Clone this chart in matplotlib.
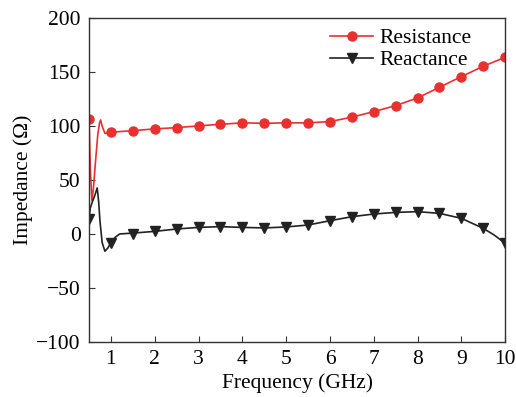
import numpy as np
import matplotlib.pyplot as plt

plt.rcParams['font.family'] = ['Liberation Serif', 'DejaVu Serif']
plt.rcParams['mathtext.fontset'] = 'stix'

# marker samples (every 0.5 GHz)
freq_mk = [0.5, 1.0, 1.5, 2.0, 2.5, 3.0, 3.5, 4.0, 4.5, 5.0,
           5.5, 6.0, 6.5, 7.0, 7.5, 8.0, 8.5, 9.0, 9.5, 10.0]
res_mk = [107, 94.3, 95.8, 97.4, 98.6, 100.2, 101.7, 103, 102.6, 103,
          103, 104.2, 108.3, 113.4, 119, 126.1, 136, 145.9, 155.5, 163.8]
rea_mk = [14, -8, 0, 2.4, 4.6, 6.1, 6.8, 6.1, 5.6, 6.5,
          8.3, 12.3, 16, 18.5, 20, 20.7, 19.1, 14.5, 5.2, -8.7]

# traced curves (denser near the low-frequency resonance)
freq_res = [0.5, 0.53, 0.566, 0.6, 0.65, 0.7, 0.74, 0.765, 0.8, 0.863, 0.93, 1.0,
            1.5, 2.0, 2.5, 3.0, 3.5, 4.0, 4.5, 5.0, 5.5, 6.0, 6.5, 7.0, 7.5,
            8.0, 8.5, 9.0, 9.5, 10.0]
res_line = [107, 60, 31, 42, 68, 92, 103, 105.7, 100, 93.3, 93.5, 94.3,
            95.8, 97.4, 98.6, 100.2, 101.7, 103, 102.6, 103, 103, 104.2, 108.3,
            113.4, 119, 126.1, 136, 145.9, 155.5, 163.8]

freq_rea = [0.5, 0.53, 0.56, 0.63, 0.687, 0.72, 0.75, 0.8, 0.863, 0.93, 1.0, 1.1,
            1.2, 1.5, 2.0, 2.5, 3.0, 3.5, 4.0, 4.5, 5.0, 5.5, 6.0, 6.5, 7.0,
            7.5, 8.0, 8.5, 9.0, 9.5, 9.75, 10.0]
rea_line = [14, 24, 28, 35.5, 42.7, 30, 12, -8, -16, -13, -8, -3,
            0, 0.8, 2.4, 4.6, 6.1, 6.8, 6.1, 5.6, 6.5, 8.3, 12.3, 16, 18.5,
            20, 20.7, 19.1, 14.5, 5.2, -1, -8.7]

red = '#e8302f'
black = '#222222'
fs = 15.5

fig = plt.figure(figsize=(5.16, 3.97), dpi=100)
ax = fig.add_axes([0.1725, 0.139, 0.8065, 0.815])

ax.plot(freq_res, res_line, color=red, lw=1.2)
ax.plot(freq_mk, res_mk, 'o', color=red, ms=6.5)
ax.plot(freq_rea, rea_line, color=black, lw=1.2)
ax.plot(freq_mk, rea_mk, 'v', color=black, ms=7)

# legend proxies
ax.plot([], [], '-o', color=red, lw=1.2, ms=6.5, label='Resistance')
ax.plot([], [], '-v', color=black, lw=1.2, ms=7, label='Reactance')
ax.legend(loc='upper left', bbox_to_anchor=(330 / 516, 1 - 28 / 397),
          bbox_transform=fig.transFigure, frameon=False, fontsize=fs,
          handlelength=2.0, handletextpad=0.3, borderaxespad=0, borderpad=0,
          labelspacing=0.1)

ax.set_xlim(0.5, 10)
ax.set_ylim(-100, 200)
ax.set_xticks(range(1, 11))
ax.set_yticks([-100, -50, 0, 50, 100, 150, 200])
ax.set_yticklabels(['\u2212100', '\u221250', '0', '50', '100', '150', '200'])
ax.tick_params(direction='in', length=4, labelsize=fs, color='#333333', pad=6)
for s in ax.spines.values():
    s.set_color('#333333')
    s.set_linewidth(1.0)

ax.set_xlabel('Frequency (GHz)', fontsize=fs, labelpad=3)
ax.set_ylabel('Impedance (\u03a9)', fontsize=fs, labelpad=2)

fig.savefig('out.png', dpi=100)
